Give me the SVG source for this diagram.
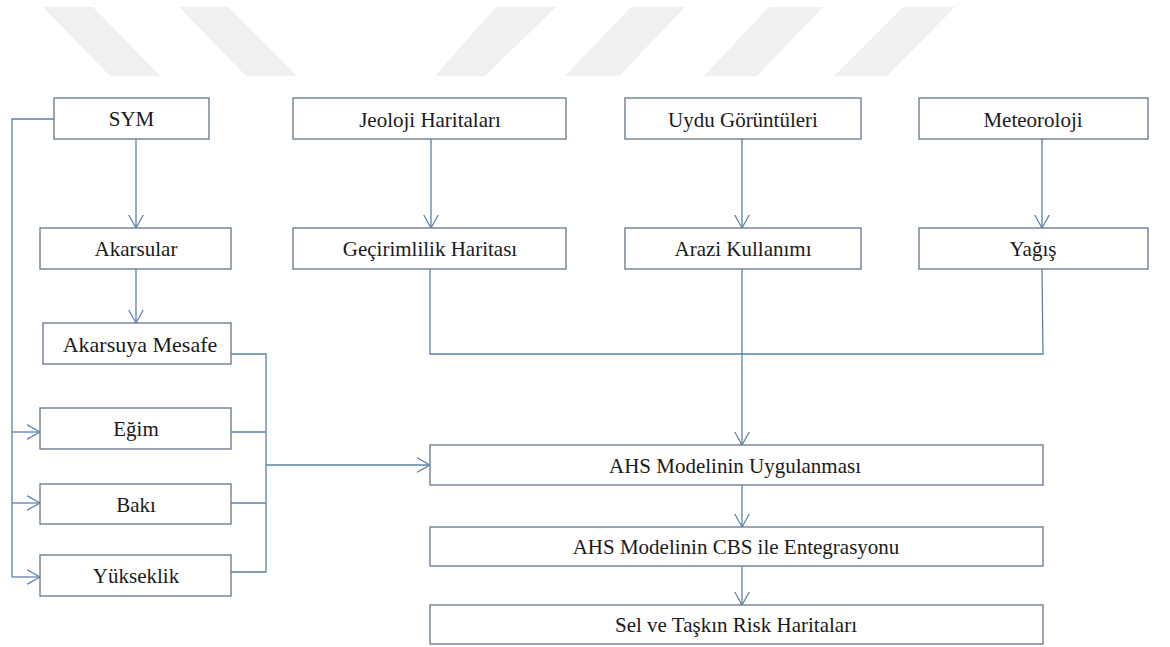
<svg xmlns="http://www.w3.org/2000/svg" width="1170" height="647" viewBox="0 0 1170 647">
<style>
.box{fill:#ffffff;stroke:#6f7f92;stroke-width:1.4}
.t{font-family:"Liberation Serif","Times New Roman",serif;font-size:21px;fill:#1a1a1a;text-anchor:middle}
.c{fill:none;stroke:#5b80aa;stroke-width:1.3}
.wm{fill:#f0f0f0}
</style>
<defs>
<marker id="ah" viewBox="0 0 15 16" refX="13.5" refY="8" markerWidth="15" markerHeight="16" markerUnits="userSpaceOnUse" orient="auto">
<path d="M0,0.5 L13.5,8 L0,15.5" fill="none" stroke="#5b80aa" stroke-width="1.2"/>
</marker>
</defs>
<rect width="1170" height="647" fill="#ffffff"/>
<g id="watermark">
<polygon class="wm" points="43,7 93,7 160,76 110,76"/>
<polygon class="wm" points="179,7 228,7 297,76 246,76"/>
<polygon class="wm" points="496,7 556,7 485,76 435,76"/>
<polygon class="wm" points="631,7 685,7 619,76 565,76"/>
<polygon class="wm" points="769,7 823,7 757,76 704,76"/>
<polygon class="wm" points="903,7 955,7 887,76 834,76"/>
</g>
<g id="connectors">
<line class="c" x1="136" y1="139" x2="136" y2="228" marker-end="url(#ah)"/>
<line class="c" x1="431" y1="139" x2="431" y2="228" marker-end="url(#ah)"/>
<line class="c" x1="742" y1="139" x2="742" y2="228" marker-end="url(#ah)"/>
<line class="c" x1="1042" y1="139" x2="1042" y2="228" marker-end="url(#ah)"/>
<line class="c" x1="136" y1="269" x2="136" y2="323" marker-end="url(#ah)"/>
<polyline class="c" points="54,119 12,119 12,577"/>
<line class="c" x1="12" y1="432" x2="40" y2="432" marker-end="url(#ah)"/>
<line class="c" x1="12" y1="503" x2="40" y2="503" marker-end="url(#ah)"/>
<line class="c" x1="12" y1="577" x2="40" y2="577" marker-end="url(#ah)"/>
<polyline class="c" points="231,354 266,354 266,572 231,572"/>
<line class="c" x1="231" y1="432" x2="266" y2="432"/>
<line class="c" x1="231" y1="503" x2="266" y2="503"/>
<line class="c" x1="266" y1="465" x2="430" y2="465" marker-end="url(#ah)"/>
<polyline class="c" points="430,269 430,354 1043,354 1042,269"/>
<line class="c" x1="742" y1="269" x2="742" y2="445" marker-end="url(#ah)"/>
<line class="c" x1="742" y1="485" x2="742" y2="527" marker-end="url(#ah)"/>
<line class="c" x1="742" y1="566" x2="742" y2="605" marker-end="url(#ah)"/>
</g>
<g id="n-sym"><rect class="box" x="54" y="98" width="155" height="41"/><text class="t" x="131.5" y="126">SYM</text></g>
<g id="n-jeoloji"><rect class="box" x="293" y="98" width="273" height="41"/><text class="t" x="430" y="127">Jeoloji Haritaları</text></g>
<g id="n-uydu"><rect class="box" x="625" y="98" width="236" height="41"/><text class="t" x="743" y="127">Uydu Görüntüleri</text></g>
<g id="n-meteoroloji"><rect class="box" x="919" y="98" width="229" height="41"/><text class="t" x="1033" y="127">Meteoroloji</text></g>
<g id="n-akarsular"><rect class="box" x="40" y="228" width="191" height="41"/><text class="t" x="136" y="256">Akarsular</text></g>
<g id="n-gecirimlilik"><rect class="box" x="293" y="228" width="273" height="41"/><text class="t" x="430" y="256">Geçirimlilik Haritası</text></g>
<g id="n-arazi"><rect class="box" x="625" y="228" width="236" height="41"/><text class="t" x="743" y="256">Arazi Kullanımı</text></g>
<g id="n-yagis"><rect class="box" x="919" y="228" width="229" height="41"/><text class="t" x="1033" y="256">Yağış</text></g>
<g id="n-mesafe"><rect class="box" x="43" y="323" width="188" height="41"/><text class="t" x="140" y="352" style="font-size:22px">Akarsuya Mesafe</text></g>
<g id="n-egim"><rect class="box" x="40" y="408" width="191" height="41"/><text class="t" x="136" y="436">Eğim</text></g>
<g id="n-baki"><rect class="box" x="40" y="484" width="191" height="40"/><text class="t" x="136" y="512">Bakı</text></g>
<g id="n-yukseklik"><rect class="box" x="40" y="555" width="191" height="41"/><text class="t" x="136" y="583">Yükseklik</text></g>
<g id="n-ahs"><rect class="box" x="430" y="445" width="613" height="40"/><text class="t" x="735" y="473">AHS Modelinin Uygulanması</text></g>
<g id="n-cbs"><rect class="box" x="430" y="527" width="613" height="39"/><text class="t" x="736" y="554">AHS Modelinin CBS ile Entegrasyonu</text></g>
<g id="n-sel"><rect class="box" x="430" y="605" width="613" height="39"/><text class="t" x="736" y="632">Sel ve Taşkın Risk Haritaları</text></g>
</svg>
